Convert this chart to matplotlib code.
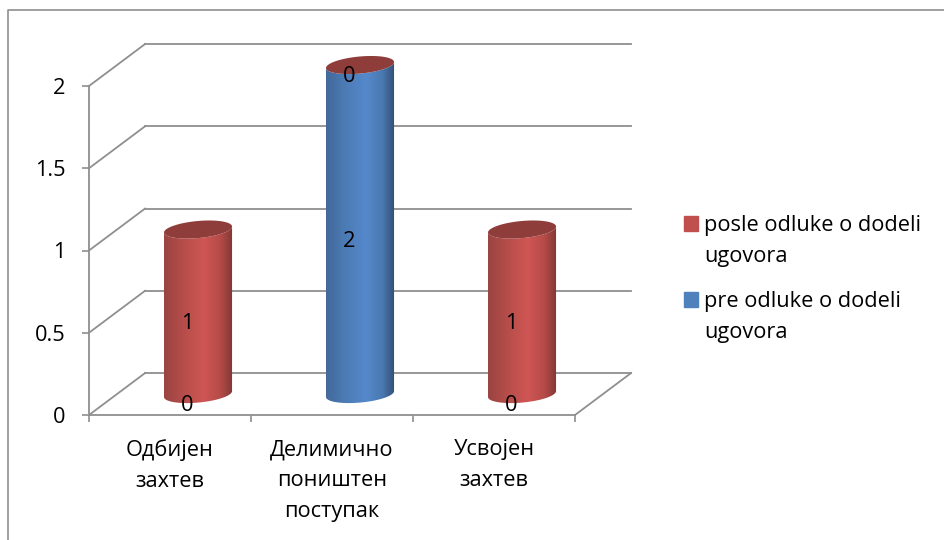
import matplotlib
matplotlib.use("Agg")
import matplotlib.pyplot as plt
import numpy as np

from matplotlib.colors import LinearSegmentedColormap
from matplotlib.legend_handler import HandlerPatch
from matplotlib.lines import Line2D
from matplotlib.patches import Patch, Polygon, Rectangle

categories = ["Одбијен\nзахтев", "Делимично\nпоништен\nпоступак", "Усвојен\nзахтев"]
series_names = ["posle odluke o dodeli\nugovora", "pre odluke o dodeli\nugovora"]
posle = [1, 0, 1]
pre = [0, 2, 0]
y_ticks = [0, 0.5, 1, 1.5, 2]
y_tick_labels = ["0", "0.5", "1", "1.5", "2"]

W, H = 944, 540
GRID = "#8f8f8f"
RED = "#c0504d"
BLUE = "#4f81bd"
RED_CAP = "#8f3d3b"

# depth of the fake 3d box and cylinder shape, in data units
DEPTH_X = 0.346
DEPTH_Y = 0.255
RX = 0.21
RY = 0.052
TILT = 0.018

red_cmap = LinearSegmentedColormap.from_list(
    "red3d", [(0, "#9a4441"), (0.3, "#b84e4b"), (0.58, "#cf5654"), (0.82, "#b54b48"), (1, "#803735")])
blue_cmap = LinearSegmentedColormap.from_list(
    "blue3d", [(0, "#42699b"), (0.3, "#4d7cb6"), (0.58, "#5589cc"), (0.82, "#4a78b0"), (1, "#324f75")])

plt.rcParams["font.family"] = ["Open Sans", "DejaVu Sans"]
plt.rcParams["font.size"] = 15.7

fig = plt.figure(figsize=(W / 100, H / 100), dpi=100)
ax = fig.add_axes([89 / W, 1 - 415 / H, 486 / W, 329 / H])
ax.patch.set_visible(False)

# outer chart frame, cut off by the image on the right and bottom
fig.add_artist(Line2D([8 / W, 8 / W, 1], [0, 1 - 10 / H, 1 - 10 / H], color=GRID, lw=1.2))


def ellipse_arc(cx, cy, t):
    return cx + RX * np.cos(t), cy + RY * np.sin(t) + TILT * np.cos(t)


def draw_body(cx, y0, y1, cmap):
    t = np.linspace(np.pi, 2 * np.pi, 60)
    xb, yb = ellipse_arc(cx, y0, t)
    xt, yt = ellipse_arc(cx, y1, t[::-1])
    outline = Polygon(np.column_stack([np.r_[xb, xt], np.r_[yb, yt]]), transform=ax.transData)
    grad = np.linspace(0, 1, 256).reshape(1, -1)
    im = ax.imshow(grad, cmap=cmap, aspect="auto", zorder=3,
                   extent=[cx - RX, cx + RX, y0 - 0.2, y1 + 0.2])
    # images get cut at the axes box otherwise, and the tall bar goes above it
    im.set_clip_box(fig.bbox)
    im.set_clip_path(outline)


# back wall, side wall and floor lines
for v in y_ticks:
    ax.plot([DEPTH_X, 3 + DEPTH_X], [v + DEPTH_Y, v + DEPTH_Y], color=GRID, lw=1.3, clip_on=False, zorder=1)
    ax.plot([0, DEPTH_X], [v, v + DEPTH_Y], color=GRID, lw=1.3, clip_on=False, zorder=1)
ax.plot([3, 3 + DEPTH_X], [0, DEPTH_Y], color=GRID, lw=1.3, clip_on=False, zorder=1)

# cylinders, pre at the bottom and posle stacked on it
for i in range(len(categories)):
    cx = i + 0.5 + DEPTH_X / 2
    base = DEPTH_Y / 2
    if pre[i] > 0:
        draw_body(cx, base, base + pre[i], blue_cmap)
    if posle[i] > 0:
        draw_body(cx, base + pre[i], base + pre[i] + posle[i], red_cmap)
    t = np.linspace(0, 2 * np.pi, 120)
    xc, yc = ellipse_arc(cx, base + pre[i] + posle[i], t)
    ax.fill(xc, yc, color=RED_CAP, lw=0, zorder=4, clip_on=False)

    # data labels, one per series
    ax.text(i + 0.605, pre[i] / 2 + 0.055, str(pre[i]), ha="center", va="center", zorder=5, clip_on=False)
    ax.text(i + 0.605, pre[i] + posle[i] / 2 + 0.055, str(posle[i]), ha="center", va="center", zorder=5, clip_on=False)

ax.set_xlim(0, 3)
ax.set_ylim(0, 2)

for side in ["top", "right"]:
    ax.spines[side].set_visible(False)
for side in ["left", "bottom"]:
    ax.spines[side].set_color(GRID)
    ax.spines[side].set_linewidth(1.3)

ax.set_yticks(y_ticks)
ax.set_yticklabels(y_tick_labels)
ax.tick_params(axis="y", length=5, width=1.2, color=GRID, pad=12)
ax.set_xticks([0, 1, 2, 3])
ax.set_xticklabels([])
ax.tick_params(axis="x", length=5, width=1.2, color=GRID)
ax.set_xticks([0.5, 1.5, 2.5], minor=True)
ax.set_xticklabels(categories, minor=True, linespacing=1.6, va="top")
ax.tick_params(axis="x", which="minor", length=0, pad=17.6)


def first_line_swatch(legend, orig_handle, xdescent, ydescent, width, height, fontsize):
    # legend centres the handle on the wrapped text, the chart keeps it on line one
    return Rectangle((-xdescent, -ydescent + 13), width, height)


leg = fig.legend(
    [Patch(color=RED), Patch(color=BLUE)], series_names,
    loc="upper left", bbox_to_anchor=(684 / W, 1 - 215 / H), bbox_transform=fig.transFigure,
    frameon=False, borderpad=0, borderaxespad=0, handlelength=0.65, handleheight=0.69,
    handletextpad=0.28, labelspacing=1.13,
    handler_map={Patch: HandlerPatch(patch_func=first_line_swatch)})
for txt in leg.get_texts():
    txt.set_linespacing(1.6)

fig.savefig("out.png", dpi=100)
